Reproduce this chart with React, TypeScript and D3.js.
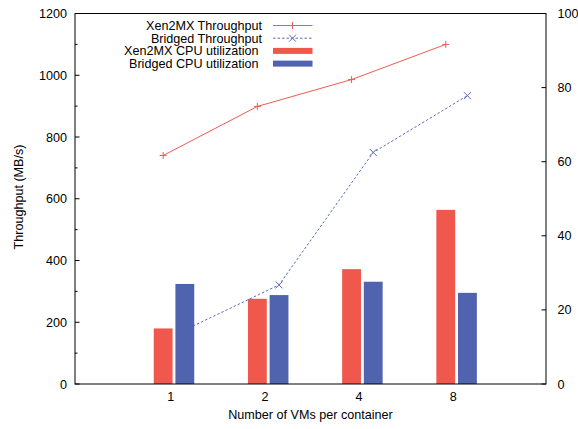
import React from "react";
import * as d3 from "d3";

const categories = ["1", "2", "4", "8"];
const xen2mxThroughput = [740, 899, 986, 1100];
const bridgedThroughput = [175, 321, 750, 934];
const xen2mxCpu = [15, 23, 31, 47];
const bridgedCpu = [27, 24, 27.6, 24.6];
const leftTicks = [0, 200, 400, 600, 800, 1000, 1200];
const leftMinorTicks = [100, 300, 500, 700, 900, 1100];
const rightTicks = [0, 20, 40, 60, 80, 100];

const legendItems = [
  { label: "Xen2MX Throughput", kind: "line", color: "#f15a50" },
  { label: "Bridged Throughput", kind: "dash", color: "#5a6cbd" },
  { label: "Xen2MX CPU utilization", kind: "bar", color: "#f0584d" },
  { label: "Bridged CPU utilization", kind: "bar", color: "#4f63ae" },
];

const W = 578;
const H = 429;
const left = 75;
const right = 546;
const top = 13.5;
const bottom = 384;
const font = "'Liberation Sans', Arial, Helvetica, sans-serif";

const App = () => {
  const x = d3.scaleLinear().domain([0, 5]).range([left + 1.5, right + 1.5]);
  const yL = d3.scaleLinear().domain([0, 1200]).range([bottom, top]);
  const yR = d3.scaleLinear().domain([0, 100]).range([bottom, top]);

  const barW = 0.2;
  const redOff = -0.08;
  const blueOff = 0.15;

  const redLine = d3
    .line<number>()
    .x((d, i) => x(i + 1 + redOff))
    .y((d) => yL(d));
  const blueLine = d3
    .line<number>()
    .x((d, i) => x(i + 1 + blueOff))
    .y((d) => yL(d));

  const plus = (cx: number, cy: number, s = 3.5) =>
    `M${cx - s},${cy}H${cx + s}M${cx},${cy - s}V${cy + s}`;
  const cross = (cx: number, cy: number, s = 3.5) =>
    `M${cx - s},${cy - s}L${cx + s},${cy + s}M${cx - s},${cy + s}L${cx + s},${cy - s}`;

  return (
    <svg
      width={W}
      height={H}
      style={{ position: "absolute", left: 0, top: 0, background: "#fff" }}
      fontFamily={font}
      fontSize={12.6}
    >
      {/* lines (drawn under the bars) */}
      <path d={redLine(xen2mxThroughput) || ""} fill="none" stroke="#f15a50" strokeWidth={1} />
      {xen2mxThroughput.map((v, i) => (
        <path key={"p" + i} d={plus(x(i + 1 + redOff), yL(v))} stroke="#f15a50" strokeWidth={1} />
      ))}
      <path
        d={blueLine(bridgedThroughput) || ""}
        fill="none"
        stroke="#5a6cbd"
        strokeWidth={1}
        strokeDasharray="2.5,2"
      />
      {bridgedThroughput.map((v, i) => (
        <path key={"c" + i} d={cross(x(i + 1 + blueOff), yL(v))} stroke="#5a6cbd" strokeWidth={1} />
      ))}

      {/* bars */}
      {xen2mxCpu.map((v, i) => (
        <rect
          key={"r" + i}
          x={x(i + 1 + redOff - barW / 2)}
          y={yR(v)}
          width={x(barW) - x(0)}
          height={yR(0) - yR(v)}
          fill="#f0584d"
        />
      ))}
      {bridgedCpu.map((v, i) => (
        <rect
          key={"b" + i}
          x={x(i + 1 + blueOff - barW / 2)}
          y={yR(v)}
          width={x(barW) - x(0)}
          height={yR(0) - yR(v)}
          fill="#4f63ae"
        />
      ))}

      {/* frame */}
      <rect x={left} y={top} width={right - left} height={bottom - top} fill="none" stroke="#000" strokeWidth={1} />

      {/* left axis */}
      {leftTicks.map((t) => (
        <g key={"lt" + t}>
          <line x1={left} x2={left + 4.5} y1={yL(t)} y2={yL(t)} stroke="#000" />
          <text x={left - 8} y={yL(t) + 4.5} textAnchor="end">
            {t}
          </text>
        </g>
      ))}
      {leftMinorTicks.map((t) => (
        <line key={"lm" + t} x1={left} x2={left + 2.5} y1={yL(t)} y2={yL(t)} stroke="#000" />
      ))}

      {/* right axis */}
      {rightTicks.map((t) => (
        <g key={"rt" + t}>
          <line x1={right - 4.5} x2={right} y1={yR(t)} y2={yR(t)} stroke="#000" />
          <text x={right + 11.5} y={yR(t) + 4.5} textAnchor="start">
            {t}
          </text>
        </g>
      ))}

      {/* x tick labels */}
      {categories.map((c, i) => (
        <text key={"xt" + c} x={x(i + 1)} y={400.5} textAnchor="middle">
          {c}
        </text>
      ))}

      <text x={(left + right) / 2} y={419} textAnchor="middle">
        Number of VMs per container
      </text>
      <text transform={`translate(22.5,197) rotate(-90)`} textAnchor="middle">
        Throughput (MB/s)
      </text>

      {/* legend */}
      {legendItems.map((it, i) => {
        const cy = 25.5 + i * 12.7;
        const textEnd = it.kind === "bar" ? 258.5 : 262;
        return (
          <g key={"lg" + i}>
            <text x={textEnd} y={cy + 4.3} textAnchor="end">
              {it.label}
            </text>
            {it.kind === "bar" ? (
              <rect x={273} y={cy - 3} width={39.5} height={6} fill={it.color} />
            ) : (
              <>
                <line
                  x1={273}
                  x2={312.5}
                  y1={cy}
                  y2={cy}
                  stroke={it.color}
                  strokeDasharray={it.kind === "dash" ? "2.5,2" : undefined}
                />
                <path d={it.kind === "dash" ? cross(292.5, cy) : plus(292.5, cy)} stroke={it.color} />
              </>
            )}
          </g>
        );
      })}
    </svg>
  );
};

export default App;
